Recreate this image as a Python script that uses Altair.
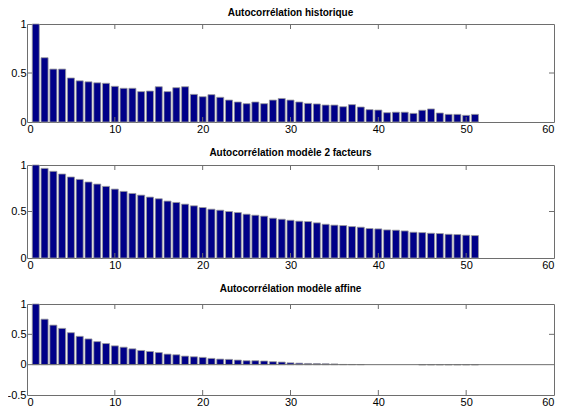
import altair as alt
import pandas as pd

lags = list(range(1, 52))

hist = [1.0, 0.656, 0.54, 0.54, 0.449, 0.42, 0.41, 0.40, 0.395, 0.364,
        0.344, 0.344, 0.31, 0.316, 0.36, 0.31, 0.35, 0.36, 0.282, 0.258,
        0.279, 0.252, 0.224, 0.204, 0.187, 0.204, 0.187, 0.224, 0.24, 0.224,
        0.204, 0.19, 0.184, 0.173, 0.173, 0.156, 0.177, 0.153, 0.126, 0.122,
        0.095, 0.10, 0.10, 0.088, 0.12, 0.133, 0.092, 0.078, 0.078, 0.068,
        0.078]

two_factor = [1.0, 0.964, 0.932, 0.903, 0.871, 0.845, 0.817, 0.795, 0.77, 0.741,
              0.716, 0.694, 0.676, 0.655, 0.637, 0.612, 0.597, 0.579, 0.561, 0.543,
              0.525, 0.514, 0.50, 0.489, 0.471, 0.46, 0.45, 0.428, 0.417, 0.406,
              0.396, 0.392, 0.378, 0.363, 0.353, 0.349, 0.338, 0.331, 0.317, 0.313,
              0.302, 0.299, 0.291, 0.277, 0.273, 0.266, 0.263, 0.255, 0.252, 0.245,
              0.241]

affine = [1.0, 0.75, 0.652, 0.598, 0.527, 0.467, 0.424, 0.38, 0.348, 0.31,
          0.288, 0.261, 0.234, 0.217, 0.20, 0.174, 0.163, 0.141, 0.13, 0.12,
          0.103, 0.092, 0.087, 0.076, 0.065, 0.065, 0.06, 0.049, 0.043, 0.03,
          0.025, 0.02, 0.018, 0.015, 0.012, 0.004, 0.003, 0.002, None, None,
          None, None, None, None, -0.003, -0.003, -0.003, -0.003, -0.003, -0.003,
          -0.003]

titles = ["Autocorrélation historique",
          "Autocorrélation modèle 2 facteurs",
          "Autocorrélation modèle affine"]

x_ticks = [0, 10, 20, 30, 40, 50, 60]
x_inner_ticks = [10, 20, 30, 40, 50]

W = 527
FONT = "Liberation Sans"
FILL = "#000088"
EDGE = "#9a9a9a"
FRAME = "#6e6e6e"


def panel(vals, title, ydom, yticks, yinner, height, toff, zero_line=False):
    df = pd.DataFrame({"lag": lags, "v": vals})
    xs = alt.Scale(domain=[0, 60], nice=False, zero=False)
    ys = alt.Scale(domain=ydom, nice=False, zero=False)
    xax = alt.Axis(title=None, values=x_ticks, labelExpr="toString(datum.value)")
    yax = alt.Axis(title=None, values=yticks, labelExpr="toString(datum.value)")
    bars = (
        alt.Chart(df)
        .transform_filter("isValid(datum.v)")
        .transform_calculate(x0="datum.lag - 0.4", x1="datum.lag + 0.4")
        .mark_rect(fill=FILL, stroke=EDGE, strokeWidth=0.8)
        .encode(
            x=alt.X("x0:Q", scale=xs, axis=xax),
            x2="x1:Q",
            y=alt.Y("v:Q", scale=ys, axis=yax),
            y2=alt.datum(0),
        )
    )
    xt = pd.DataFrame({"t": x_inner_ticks})
    top_ticks = alt.Chart(xt).mark_rule(color=FRAME, strokeWidth=1).encode(
        x=alt.X("t:Q", scale=xs, axis=xax), y=alt.value(0), y2=alt.value(5))
    bot_ticks = alt.Chart(xt).mark_rule(color=FRAME, strokeWidth=1).encode(
        x=alt.X("t:Q", scale=xs, axis=xax), y=alt.value(height - 5),
        y2=alt.value(height))
    yt = pd.DataFrame({"t": yinner})
    left_ticks = alt.Chart(yt).mark_rule(color=FRAME, strokeWidth=1).encode(
        y=alt.Y("t:Q", scale=ys, axis=yax), x=alt.value(0), x2=alt.value(5))
    right_ticks = alt.Chart(yt).mark_rule(color=FRAME, strokeWidth=1).encode(
        y=alt.Y("t:Q", scale=ys, axis=yax), x=alt.value(W - 5), x2=alt.value(W))
    layers = [bars, top_ticks, bot_ticks, left_ticks, right_ticks]
    if zero_line:
        zl = pd.DataFrame({"z": [0]})
        layers.append(
            alt.Chart(zl).mark_rule(color=FRAME, strokeWidth=1).encode(
                y=alt.Y("z:Q", scale=ys, axis=yax), x=alt.value(0),
                x2=alt.value(W)))
    return alt.layer(*layers).properties(
        width=W, height=height,
        title=alt.TitleParams(title, fontSize=10, fontWeight="bold", font=FONT,
                              color="black", offset=toff, anchor="middle",
                              frame="group"),
    )


p1 = panel(hist, titles[0], [0, 1], [0, 0.5, 1], [0.5], 98, 0)
p2 = panel(two_factor, titles[1], [0, 1], [0, 0.5, 1], [0.5], 93, 1)
p3 = panel(affine, titles[2], [-0.5, 1], [-0.5, 0, 0.5, 1], [0.5], 91, 4,
           zero_line=True)

chart = (
    alt.vconcat(p1, p2, p3, spacing=12)
    .properties(padding={"left": -2, "top": -1, "right": 0, "bottom": 0})
    .configure_view(stroke=FRAME, strokeWidth=1)
    .configure_axis(labelFont=FONT, labelFontSize=11, labelColor="black",
                    ticks=False, domain=False, grid=False, labelPadding=1)
    .configure_axisX(labelPadding=1)
)

chart.save("out.html", embed_options={"renderer": "svg", "actions": False})
